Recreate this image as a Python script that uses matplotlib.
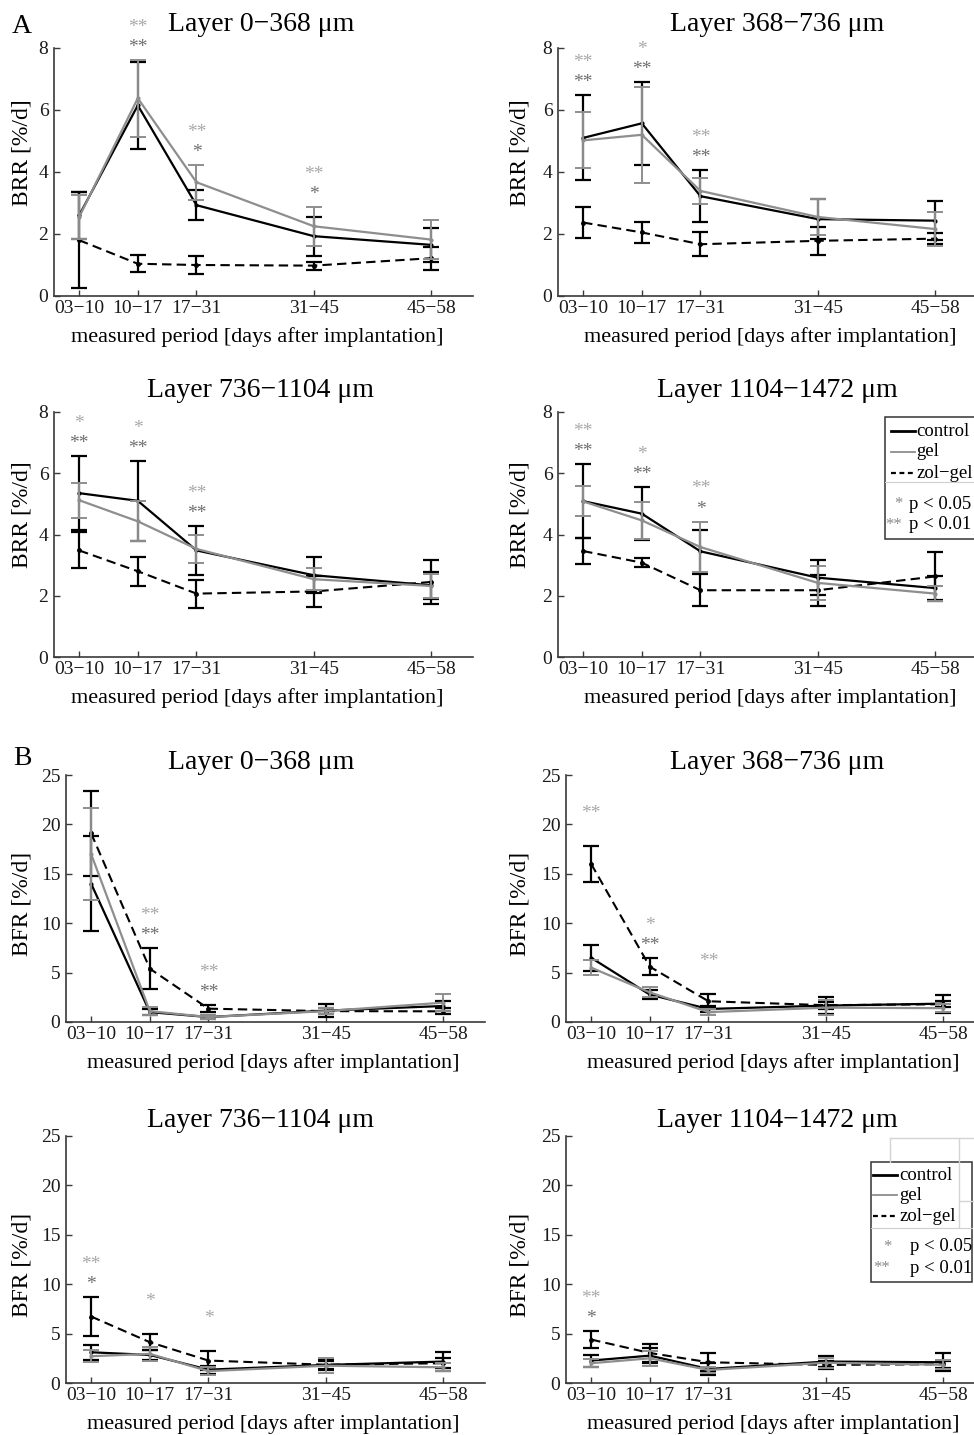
import matplotlib.pyplot as plt
from matplotlib.lines import Line2D
from matplotlib.patches import Rectangle

plt.rcParams['font.family'] = ['Liberation Serif', 'DejaVu Serif']

# measured periods, plotted at the first day of each period
periods = ["03−10", "10−17", "17−31", "31−45", "45−58"]
start_days = [3, 10, 17, 31, 45]
layers = ["Layer 0−368 μm", "Layer 368−736 μm", "Layer 736−1104 μm", "Layer 1104−1472 μm"]

# --- BRR [%/d], one row per layer ---
brr_control = [[2.60, 6.15, 2.93, 1.93, 1.65],
               [5.10, 5.57, 3.22, 2.48, 2.43],
               [5.35, 5.10, 3.48, 2.67, 2.34],
               [5.09, 4.68, 3.45, 2.59, 2.25]]
brr_control_err = [[0.75, 1.40, 0.49, 0.63, 0.55],
                   [1.37, 1.33, 0.83, 0.65, 0.63],
                   [1.20, 1.30, 0.80, 0.58, 0.45],
                   [1.20, 0.87, 0.70, 0.57, 0.40]]
brr_gel = [[2.55, 6.38, 3.67, 2.25, 1.82],
           [5.02, 5.20, 3.39, 2.55, 2.16],
           [5.12, 4.43, 3.53, 2.54, 2.32],
           [5.08, 4.46, 3.59, 2.42, 2.07]]
brr_gel_err = [[0.70, 1.24, 0.56, 0.63, 0.62],
               [0.90, 1.54, 0.41, 0.58, 0.54],
               [0.57, 0.65, 0.47, 0.35, 0.40],
               [0.49, 0.60, 0.83, 0.55, 0.25]]
brr_zol = [[1.80, 1.04, 1.00, 0.98, 1.22],
           [2.37, 2.05, 1.67, 1.78, 1.85],
           [3.48, 2.80, 2.07, 2.14, 2.45],
           [3.46, 3.08, 2.18, 2.18, 2.63]]
brr_zol_err = [[1.55, 0.27, 0.30, 0.13, 0.37],
               [0.50, 0.35, 0.39, 0.45, 0.18],
               [0.59, 0.48, 0.46, 0.52, 0.73],
               [0.42, 0.15, 0.52, 0.50, 0.80]]
# significance marks: upper row (light grey) and lower row (dark grey)
brr_sig_upper = [["", "**", "**", "**", ""],
                 ["**", "*", "**", "", ""],
                 ["*", "*", "**", "", ""],
                 ["**", "*", "**", "", ""]]
brr_sig_lower = [["", "**", "*", "*", ""],
                 ["**", "**", "**", "", ""],
                 ["**", "**", "**", "", ""],
                 ["**", "**", "*", "", ""]]

# --- BFR [%/d], one row per layer ---
bfr_control = [[14.0, 1.00, 0.50, 1.15, 1.62],
               [6.50, 2.77, 1.32, 1.66, 1.86],
               [3.11, 2.84, 1.35, 1.83, 2.17],
               [2.27, 2.77, 1.42, 2.17, 2.10]]
bfr_control_err = [[4.80, 0.30, 0.20, 0.65, 0.50],
                   [1.30, 0.45, 0.35, 0.87, 0.90],
                   [0.75, 0.50, 0.40, 0.50, 1.00],
                   [0.60, 0.75, 0.60, 0.57, 0.90]]
bfr_gel = [[17.0, 1.10, 0.50, 1.10, 1.96],
           [5.50, 3.00, 1.00, 1.45, 1.40],
           [2.71, 2.95, 1.20, 1.75, 1.59],
           [2.00, 2.50, 1.32, 2.05, 1.85]]
bfr_gel_err = [[4.65, 0.40, 0.20, 0.30, 0.84],
               [0.75, 0.50, 0.30, 0.75, 0.40],
               [0.60, 0.70, 0.40, 0.75, 0.40],
               [0.41, 0.74, 0.35, 0.50, 0.45]]
bfr_zol = [[19.1, 5.40, 1.35, 1.10, 1.08],
           [16.0, 5.60, 2.10, 1.70, 1.80],
           [6.73, 4.13, 2.27, 1.85, 2.00],
           [4.40, 3.04, 2.10, 1.83, 1.90]]
bfr_zol_err = [[4.30, 2.10, 0.35, 0.30, 0.30],
               [1.80, 0.85, 0.70, 0.35, 0.30],
               [1.95, 0.80, 0.92, 0.40, 0.50],
               [0.84, 0.95, 0.90, 0.40, 0.35]]
bfr_sig_upper = [["", "**", "**", "", ""],
                 ["**", "*", "**", "", ""],
                 ["**", "*", "*", "", ""],
                 ["**", "", "", "", ""]]
bfr_sig_lower = [["", "**", "**", "", ""],
                 ["", "**", "", "", ""],
                 ["*", "", "", "", ""],
                 ["*", "", "", "", ""]]

W, H = 974, 1435
GREY = "#8e8e8e"
SPINE = "#3a3a3a"

fig = plt.figure(figsize=(W / 100, H / 100), dpi=100)


def add_axes_px(left, top, right, bottom):
    return fig.add_axes([left / W, 1 - bottom / H, (right - left) / W, (bottom - top) / H])


def draw_panel(ax, ctrl, ctrl_err, gel, gel_err, zol, zol_err, sig_up, sig_low,
               ymax, yticks, ylabel, title, title_x, title_pad, ylab_x, ylab_y, xlab_x):
    ax.errorbar(start_days, zol, yerr=zol_err, color="black", lw=1.5, ls=(0, (4.5, 2.5)),
                elinewidth=1.6, capsize=5.5, capthick=1.6, marker=".", ms=5, zorder=3)
    ax.errorbar(start_days, ctrl, yerr=ctrl_err, color="black", lw=1.6,
                elinewidth=1.6, capsize=5.5, capthick=1.6, marker=".", ms=4, zorder=4)
    ax.errorbar(start_days, gel, yerr=gel_err, color=GREY, lw=1.6,
                elinewidth=1.4, capsize=5.5, capthick=1.4, marker=".", ms=4, zorder=5)

    for i, x in enumerate(start_days):
        top = max(ctrl[i] + ctrl_err[i], gel[i] + gel_err[i], zol[i] + zol_err[i])
        if sig_low[i]:
            ax.annotate(sig_low[i], (x, top), xytext=(0, 9), textcoords="offset points",
                        ha="center", va="center", fontsize=14, color="#6e6e6e",
                        annotation_clip=False)
        if sig_up[i]:
            ax.annotate(sig_up[i], (x, top), xytext=(0, 23.5), textcoords="offset points",
                        ha="center", va="center", fontsize=14, color="#a8a8a8",
                        annotation_clip=False)

    ax.set_xlim(0, 50)
    ax.set_ylim(0, ymax)
    ax.set_xticks(start_days)
    ax.set_xticklabels(periods)
    ax.set_yticks(yticks)
    for s in ["top", "right"]:
        ax.spines[s].set_visible(False)
    for s in ["left", "bottom"]:
        ax.spines[s].set_color(SPINE)
        ax.spines[s].set_linewidth(1.2)
    ax.tick_params(direction="in", length=4, width=1, colors=SPINE, labelcolor="#1a1a1a",
                   labelsize=14)
    ax.tick_params(axis="y", pad=4)
    ax.tick_params(axis="x", pad=3)
    ax.set_title(title, fontsize=20, x=title_x, pad=title_pad)
    ax.set_ylabel(ylabel, fontsize=17)
    ax.yaxis.set_label_coords(ylab_x, ylab_y)
    ax.set_xlabel("measured period [days after implantation]", fontsize=16)
    ax.xaxis.set_label_coords(xlab_x, -0.125)


def draw_legend(ax, box, rows, sep, line_x, text_x, star_x, p_x):
    x0, y0, x1, y1 = box
    ax.add_patch(Rectangle((x0, y0), x1 - x0, y1 - y0, transform=ax.transAxes,
                           facecolor="white", edgecolor="#333333", lw=1.1,
                           clip_on=False, zorder=10))
    ax.plot([x0, x1], [sep, sep], transform=ax.transAxes, color="#cfcfcf", lw=0.8,
            clip_on=False, zorder=11)
    styles = [("black", "-", 2.0, "control"), (GREY, "-", 1.3, "gel"),
              ("black", (0, (2.2, 1.6)), 1.6, "zol−gel")]
    for (c, ls, lw, lab), y in zip(styles, rows[:3]):
        ax.add_line(Line2D(line_x, [y, y], transform=ax.transAxes, color=c, ls=ls, lw=lw,
                           clip_on=False, zorder=11))
        ax.text(text_x, y, lab, transform=ax.transAxes, fontsize=13.5, va="center",
                ha="left", zorder=12, clip_on=False)
    for star, lab, y, sx in [("*", "p < 0.05", rows[3], star_x[0]),
                             ("**", "p < 0.01", rows[4], star_x[1])]:
        ax.text(sx, y, star, transform=ax.transAxes, fontsize=12, color="#8a8a8a",
                va="center", ha="center", zorder=12, clip_on=False)
        ax.text(p_x, y, lab, transform=ax.transAxes, fontsize=13.5, va="center",
                ha="left", zorder=12, clip_on=False)


row_px = [(48, 296), (412, 657), (775, 1022), (1136, 1383)]

for k in range(4):
    row = k // 2
    col = k % 2
    top, bottom = row_px[row]
    if col == 0:
        ax = add_axes_px(54, top, 473, bottom)
        tx, ylx, xlx = 0.494, -0.0525, 0.484
    else:
        ax = add_axes_px(558, top, 977, bottom)
        tx, ylx, xlx = 0.523, -0.0668, 0.506
    draw_panel(ax, brr_control[k], brr_control_err[k], brr_gel[k], brr_gel_err[k],
               brr_zol[k], brr_zol_err[k], brr_sig_upper[k], brr_sig_lower[k],
               8, [0, 2, 4, 6, 8], "BRR [%/d]", layers[k], tx, 12 if row == 0 else 11,
               ylx, 0.58, xlx)
    if k == 3:
        draw_legend(ax, (0.780, 0.482, 1.03, 0.980),
                    [0.922, 0.837, 0.751, 0.624, 0.539], 0.714,
                    [0.795, 0.852], 0.855, (0.813, 0.800), 0.838)

for k in range(4):
    row = 2 + k // 2
    col = k % 2
    top, bottom = row_px[row]
    if col == 0:
        ax = add_axes_px(66, top, 485, bottom)
        tx, ylx, xlx = 0.465, -0.0811, 0.494
    else:
        ax = add_axes_px(566, top, 985, bottom)
        tx, ylx, xlx = 0.504, -0.0859, 0.494
    draw_panel(ax, bfr_control[k], bfr_control_err[k], bfr_gel[k], bfr_gel_err[k],
               bfr_zol[k], bfr_zol_err[k], bfr_sig_upper[k], bfr_sig_lower[k],
               25, [0, 5, 10, 15, 20, 25], "BFR [%/d]", layers[k], tx,
               -5 if row == 2 else 6.5, ylx, 0.48, xlx)
    if k == 3:
        # faint frame left over behind the legend
        for xs, ys in [([0.773, 1.05], [0.992, 0.992]), ([0.773, 0.773], [0.992, 0.895]),
                       ([0.938, 0.938], [0.992, 0.632]), ([0.938, 1.05], [0.737, 0.737])]:
            ax.plot(xs, ys, transform=ax.transAxes, color="#d4d4d4", lw=1,
                    clip_on=False, zorder=13)
        draw_legend(ax, (0.728, 0.409, 0.969, 0.895),
                    [0.842, 0.761, 0.676, 0.551, 0.464], 0.628,
                    [0.733, 0.790], 0.795, (0.766, 0.752), 0.821)

fig.text(12 / W, 1 - 33 / H, "A", fontsize=20, va="baseline", ha="left")
fig.text(13 / W, 1 - 765 / H, "B", fontsize=20, va="baseline", ha="left")

fig.savefig("out.png", dpi=100)
